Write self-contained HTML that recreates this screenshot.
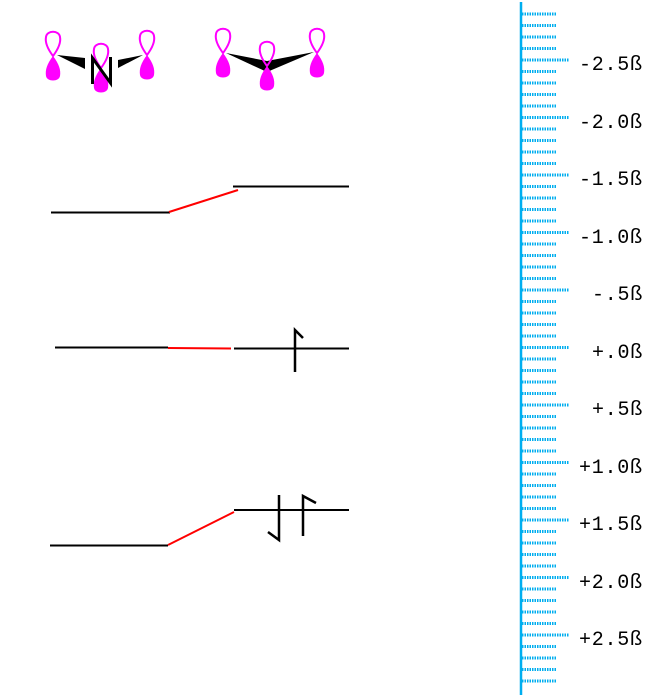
<!DOCTYPE html>
<html><head><meta charset="utf-8"><style>
html,body{margin:0;padding:0;background:#fff;width:671px;height:697px;overflow:hidden}
svg{display:block}
</style></head><body>
<svg width="671" height="697" viewBox="0 0 671 697" xmlns="http://www.w3.org/2000/svg">
<defs>
<g id="orb">
<path d="M0,0 C-6,-8 -8,-14 -7,-19 C-6,-26 6,-26 7,-19 C8,-14 6,-8 0,0 Z" fill="none" stroke="#f0f" stroke-width="2"/>
<path d="M0,0 C-6,8 -8,14 -7,20 C-6,26 6,26 7,20 C8,14 6,8 0,0 Z" fill="#f0f"/>
</g>
</defs>
<polygon points="57,55 85,58 85,69" fill="#000"/>
<polygon points="143,55 118,60 118,68" fill="#000"/>
<use href="#orb" x="53" y="56"/>
<use href="#orb" x="101" y="68"/>
<use href="#orb" x="147" y="55"/>
<path d="M92.5,84 V58 L110.5,83 V57" fill="none" stroke="#000" stroke-width="3"/>
<polygon points="226,53 267,61 267,72" fill="#000"/>
<polygon points="314,52 267,61 267,72" fill="#000"/>
<use href="#orb" x="223" y="53"/>
<use href="#orb" x="267" y="66"/>
<use href="#orb" x="317" y="53"/>
<g stroke="#000" stroke-width="2" fill="none">
<line x1="51" y1="212.5" x2="170" y2="212.5"/>
<line x1="233" y1="186.5" x2="349" y2="186.5"/>
<line x1="55" y1="347.5" x2="168" y2="347.5"/>
<line x1="234" y1="348.5" x2="349" y2="348.5"/>
<line x1="50" y1="545.5" x2="168" y2="545.5"/>
<line x1="234" y1="510" x2="349" y2="510"/>
</g>
<g stroke="#f00" stroke-width="2">
<line x1="169" y1="212" x2="238" y2="190"/>
<line x1="168" y1="348" x2="231" y2="348.5"/>
<line x1="168" y1="545" x2="234" y2="512"/>
</g>
<g stroke="#000" stroke-width="2.5" fill="none">
<path d="M295,372 V330 L303,338"/>
<path d="M279,495 V540 L268,532"/>
<path d="M303,536 V496 L316,503"/>
</g>
<line x1="521" y1="2" x2="521" y2="695" stroke="#00aeef" stroke-width="2.5"/>
<g stroke="#00aeef" stroke-width="3" stroke-dasharray="1.5,1">
<path d="M522,14h35M522,25.5h35M522,37h35M522,48.5h35M522,71.5h35M522,83h35M522,94.5h35M522,106h35M522,129h35M522,140.5h35M522,152h35M522,163.5h35M522,186.5h35M522,198h35M522,209.5h35M522,221h35M522,244h35M522,255.5h35M522,267h35M522,278.5h35M522,301.5h35M522,313h35M522,324.5h35M522,336h35M522,359h35M522,370.5h35M522,382h35M522,393.5h35M522,416.5h35M522,428h35M522,439.5h35M522,451h35M522,474h35M522,485.5h35M522,497h35M522,508.5h35M522,531.5h35M522,543h35M522,554.5h35M522,566h35M522,589h35M522,600.5h35M522,612h35M522,623.5h35M522,646.5h35M522,658h35M522,669.5h35M522,681h35"/>
<path d="M522,60h47M522,117.5h47M522,175h47M522,232.5h47M522,290h47M522,347.5h47M522,405h47M522,462.5h47M522,520h47M522,577.5h47M522,635h47"/>
</g>
<g font-family="Liberation Mono, monospace" font-size="20" letter-spacing="0.75" fill="#000">
<text x="579" y="70">-2.5ß</text>
<text x="579" y="128">-2.0ß</text>
<text x="579" y="185">-1.5ß</text>
<text x="579" y="243">-1.0ß</text>
<text x="592" y="300">-.5ß</text>
<text x="592" y="358">+.0ß</text>
<text x="592" y="415">+.5ß</text>
<text x="579" y="473">+1.0ß</text>
<text x="579" y="530">+1.5ß</text>
<text x="579" y="588">+2.0ß</text>
<text x="579" y="645">+2.5ß</text>
</g>
</svg>
</body></html>
